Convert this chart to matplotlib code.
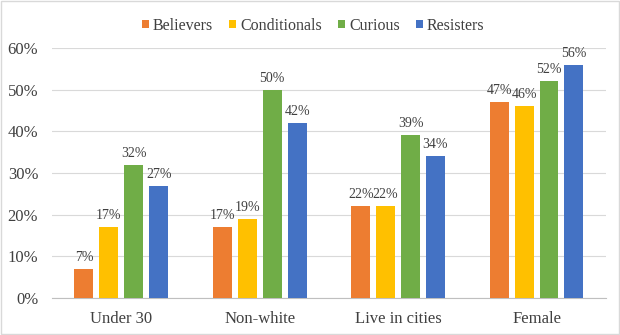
import matplotlib.pyplot as plt
import numpy as np

categories = ["Under 30", "Non-white", "Live in cities", "Female"]
series = ["Believers", "Conditionals", "Curious", "Resisters"]
believers = [7, 17, 22, 47]
conditionals = [17, 19, 22, 46]
curious = [32, 50, 39, 52]
resisters = [27, 42, 34, 56]
colors = ["#ED7D31", "#FFC000", "#70AD47", "#4472C4"]

plt.rcParams['font.family'] = ['Liberation Serif', 'DejaVu Serif']

fig = plt.figure(figsize=(6.2, 3.35), dpi=100)
ax = fig.add_axes([0.084, 0.11, 0.893, 0.747])

x = np.arange(len(categories))
width = 0.137
step = 0.18
values = [believers, conditionals, curious, resisters]
for i, (name, vals, c) in enumerate(zip(series, values, colors)):
    pos = x + (i - 1.5) * step
    bars = ax.bar(pos, vals, width, color=c, label=name, zorder=3)
    for b, v in zip(bars, vals):
        ax.text(b.get_x() + b.get_width() / 2, v + 1.2, f"{v}%",
                ha='center', va='bottom', fontsize=10, color='#404040')

ax.set_ylim(0, 60)
ax.set_xlim(-0.5, 3.5)
ax.set_yticks(range(0, 61, 10))
ax.set_yticklabels([f"{t}%" for t in range(0, 61, 10)])
ax.set_xticks(x)
ax.set_xticklabels(categories)
ax.tick_params(axis='both', length=0, labelsize=12, colors='#404040')
ax.tick_params(axis='x', pad=9)
ax.tick_params(axis='y', pad=10)
ax.grid(axis='y', color='#D9D9D9', linewidth=0.8, zorder=0)
for s in ['top', 'right', 'left']:
    ax.spines[s].set_visible(False)
ax.spines['bottom'].set_color('#BFBFBF')

fig.legend(loc='upper center', bbox_to_anchor=(0.505, 0.99), ncol=4, frameon=False,
           fontsize=11.5, handlelength=0.45, handleheight=0.45, handletextpad=0.25,
           columnspacing=1.0, labelcolor='#404040')

fig.patches.append(plt.Rectangle((0.001, 0.002), 0.997, 0.995, transform=fig.transFigure,
                                 fill=False, edgecolor='#D9D9D9', linewidth=1))

fig.savefig("out.png", dpi=100)
